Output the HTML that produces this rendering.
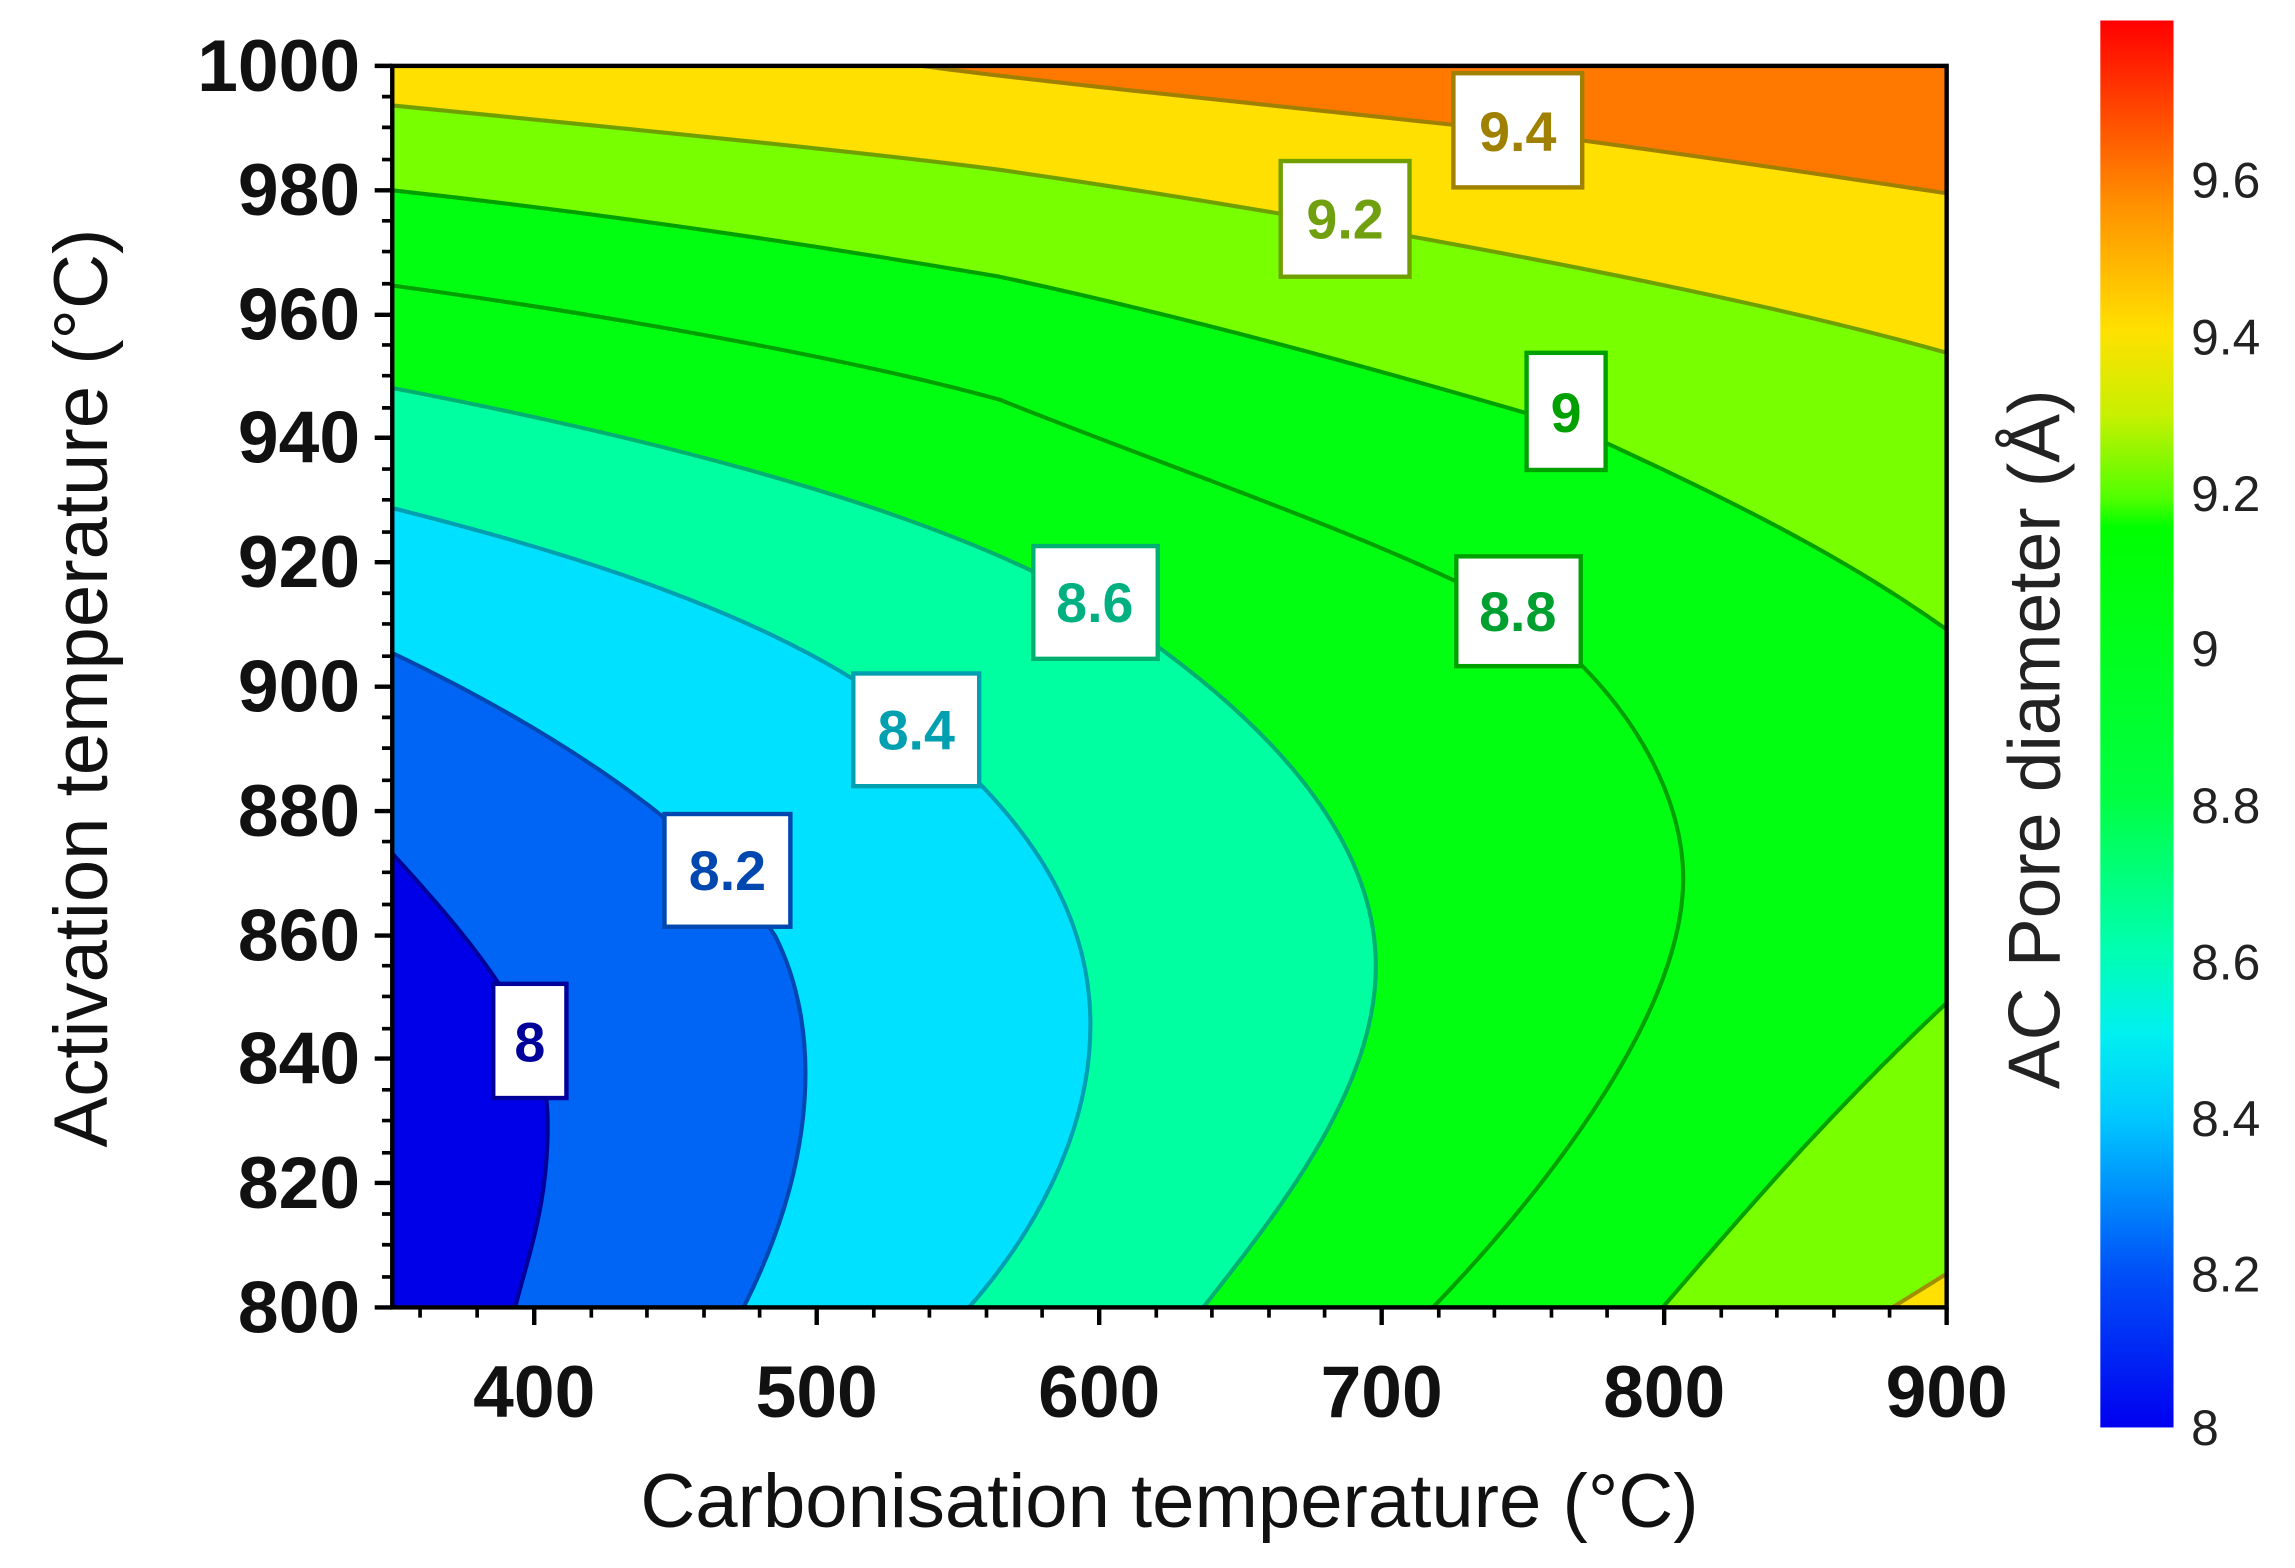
<!DOCTYPE html>
<html><head><meta charset="utf-8"><style>
html,body{margin:0;padding:0;background:#fff;}
svg{display:block;}
text{font-family:"Liberation Sans",Arial,sans-serif;}
</style></head><body>
<svg width="2295" height="1568" viewBox="0 0 1568 1071" preserveAspectRatio="none" xmlns="http://www.w3.org/2000/svg">
<defs>
<linearGradient id="cb" x1="0" y1="1" x2="0" y2="0">
<stop offset="0" stop-color="#0000f0"/>
<stop offset="0.11" stop-color="#0050f8"/>
<stop offset="0.22" stop-color="#00c8ff"/>
<stop offset="0.28" stop-color="#00f0f0"/>
<stop offset="0.34" stop-color="#00ffb0"/>
<stop offset="0.45" stop-color="#00ff40"/>
<stop offset="0.64" stop-color="#00ff00"/>
<stop offset="0.66" stop-color="#50ff00"/>
<stop offset="0.72" stop-color="#c8f000"/>
<stop offset="0.78" stop-color="#ffe000"/>
<stop offset="0.87" stop-color="#ff9000"/>
<stop offset="1" stop-color="#ff0000"/>
</linearGradient>
<clipPath id="pc"><rect x="268" y="45" width="1062" height="848"/></clipPath>
</defs>
<g clip-path="url(#pc)">
<rect x="268" y="45" width="1062" height="848" fill="#0000e8"/>
<path d="M268,583 C320,640 372,700 374,760 C376,820 360,860 352,893 L1330,893 L1330,45 L268,45 Z" fill="#0064f5"/>
<path d="M268,446 C360,490 480,560 530,640 C560,700 560,790 508,893 L1330,893 L1330,45 L268,45 Z" fill="#00e1ff"/>
<path d="M268,347 C400,380 520,420 600,475 C700,550 745,620 745,700 C745,780 700,850 662,893 L1330,893 L1330,45 L268,45 Z" fill="#00ffa0"/>
<path d="M268,265 C450,300 650,350 760,420 C880,500 940,580 940,660 C940,740 880,820 822,893 L1330,893 L1330,45 L268,45 Z" fill="#00ff10"/>
<path d="M268,130 C450,150 600,175 683,189 C850,225 1000,270 1070,290 C1180,340 1260,380 1330,430 L1330,45 L268,45 Z" fill="#78ff00"/>
<path d="M1330,685 C1250,760 1190,830 1136,893 L1330,893 Z" fill="#78ff00"/>
<path d="M268,72 C450,90 600,105 683,116 C850,140 1150,190 1330,241 L1330,45 L268,45 Z" fill="#ffe000"/>
<path d="M1330,870 L1293,893 L1330,893 Z" fill="#ffe000"/>
<path d="M630,45 C700,55 900,75 1037,90 C1150,105 1250,120 1330,132 L1330,45 Z" fill="#ff7800"/>
<g fill="none" stroke-width="2.8">
<path d="M268,583 C320,640 372,700 374,760 C376,820 360,860 352,893" stroke="#00009a"/>
<path d="M268,446 C360,490 480,560 530,640 C560,700 560,790 508,893" stroke="#0048b0"/>
<path d="M268,347 C400,380 520,420 600,475 C700,550 745,620 745,700 C745,780 700,850 662,893" stroke="#00a0b0"/>
<path d="M268,265 C450,300 650,350 760,420 C880,500 940,580 940,660 C940,740 880,820 822,893" stroke="#00b070"/>
<path d="M268,195 C450,220 600,250 683,273 C800,320 950,370 1040,420 C1110,470 1150,540 1150,600 C1150,700 1040,830 979,893" stroke="#00a000"/>
<path d="M268,130 C450,150 600,175 683,189 C850,225 1000,270 1070,290 C1180,340 1260,380 1330,430" stroke="#00a000"/>
<path d="M1330,685 C1250,760 1190,830 1136,893" stroke="#00a000"/>
<path d="M268,72 C450,90 600,105 683,116 C850,140 1150,190 1330,241" stroke="#70a000"/>
<path d="M1330,870 L1293,893" stroke="#a09000"/>
<path d="M630,45 C700,55 900,75 1037,90 C1150,105 1250,120 1330,132" stroke="#a08000"/>
</g>
</g>
<g stroke-width="3" fill="#fff">
<rect x="337" y="672" width="50" height="78" stroke="#00009a"/>
<rect x="454" y="556" width="86" height="77" stroke="#0048b0"/>
<rect x="583" y="460" width="86" height="77" stroke="#00a0b0"/>
<rect x="706" y="373" width="85" height="77" stroke="#00b070"/>
<rect x="995" y="380" width="85" height="75" stroke="#00a000"/>
<rect x="1043" y="241" width="54" height="80" stroke="#00a000"/>
<rect x="875" y="110" width="88" height="79" stroke="#70a000"/>
<rect x="993" y="50" width="88" height="78" stroke="#a08000"/>
</g>
<g font-size="38" font-weight="bold" text-anchor="middle">
<text x="362" y="725" fill="#00009a">8</text>
<text x="497" y="608" fill="#0048b0">8.2</text>
<text x="626" y="512" fill="#00a0b0">8.4</text>
<text x="748" y="425" fill="#00b080">8.6</text>
<text x="1037" y="431" fill="#00a030">8.8</text>
<text x="1070" y="295" fill="#00a000">9</text>
<text x="919" y="163" fill="#70a010">9.2</text>
<text x="1037" y="103" fill="#a08000">9.4</text>
</g>
<rect x="268" y="45" width="1062" height="848" fill="none" stroke="#000" stroke-width="3"/>
<g stroke="#000" stroke-width="3">
<path d="M268,45h-12M268,130h-12M268,215h-12M268,299h-12M268,384h-12M268,469h-12M268,554h-12M268,639h-12M268,723h-12M268,808h-12M268,893h-12"/>
</g>
<g stroke="#000" stroke-width="2.5">
<path id="ym" d="M268,66h-7M268,87h-7M268,109h-7"/>
</g>
<g stroke="#000" stroke-width="2.5">
<use href="#ym" y="84.8"/><use href="#ym" y="169.6"/><use href="#ym" y="254.4"/><use href="#ym" y="339.2"/><use href="#ym" y="424"/><use href="#ym" y="508.8"/><use href="#ym" y="593.6"/><use href="#ym" y="678.4"/><use href="#ym" y="763.2"/>
</g>
<g stroke="#000" stroke-width="3">
<path d="M365,893v12M558,893v12M751,893v12M944,893v12M1137,893v12M1330,893v12"/>
<path stroke-width="2.5" d="M287,893v7M326,893v7M404,893v7M442,893v7M481,893v7M519,893v7M597,893v7M635,893v7M674,893v7M712,893v7M790,893v7M828,893v7M867,893v7M905,893v7M983,893v7M1021,893v7M1060,893v7M1098,893v7M1176,893v7M1214,893v7M1253,893v7M1291,893v7"/>
</g>
<g font-size="50" font-weight="bold" text-anchor="end" fill="#111">
<text x="246" y="62">1000</text>
<text x="246" y="147">980</text>
<text x="246" y="232">960</text>
<text x="246" y="316">940</text>
<text x="246" y="401">920</text>
<text x="246" y="486">900</text>
<text x="246" y="571">880</text>
<text x="246" y="656">860</text>
<text x="246" y="740">840</text>
<text x="246" y="825">820</text>
<text x="246" y="910">800</text>
</g>
<g font-size="50" font-weight="bold" text-anchor="middle" fill="#111">
<text x="365" y="968">400</text>
<text x="558" y="968">500</text>
<text x="751" y="968">600</text>
<text x="944" y="968">700</text>
<text x="1137" y="968">800</text>
<text x="1330" y="968">900</text>
</g>
<text x="799" y="1043" font-size="52" text-anchor="middle" fill="#111">Carbonisation temperature (°C)</text>
<text transform="translate(73,470) rotate(-90)" font-size="52" text-anchor="middle" fill="#111">Activation temperature (°C)</text>
<rect x="1435" y="14" width="50" height="961" fill="url(#cb)"/>
<g font-size="34" fill="#222">
<text x="1497" y="135">9.6</text>
<text x="1497" y="242">9.4</text>
<text x="1497" y="349">9.2</text>
<text x="1497" y="455">9</text>
<text x="1497" y="562">8.8</text>
<text x="1497" y="669">8.6</text>
<text x="1497" y="776">8.4</text>
<text x="1497" y="882">8.2</text>
<text x="1497" y="987">8</text>
</g>
<text transform="translate(1407,505) rotate(-90)" font-size="50" text-anchor="middle" fill="#222">AC Pore diameter (Å)</text>
</svg>
</body></html>
